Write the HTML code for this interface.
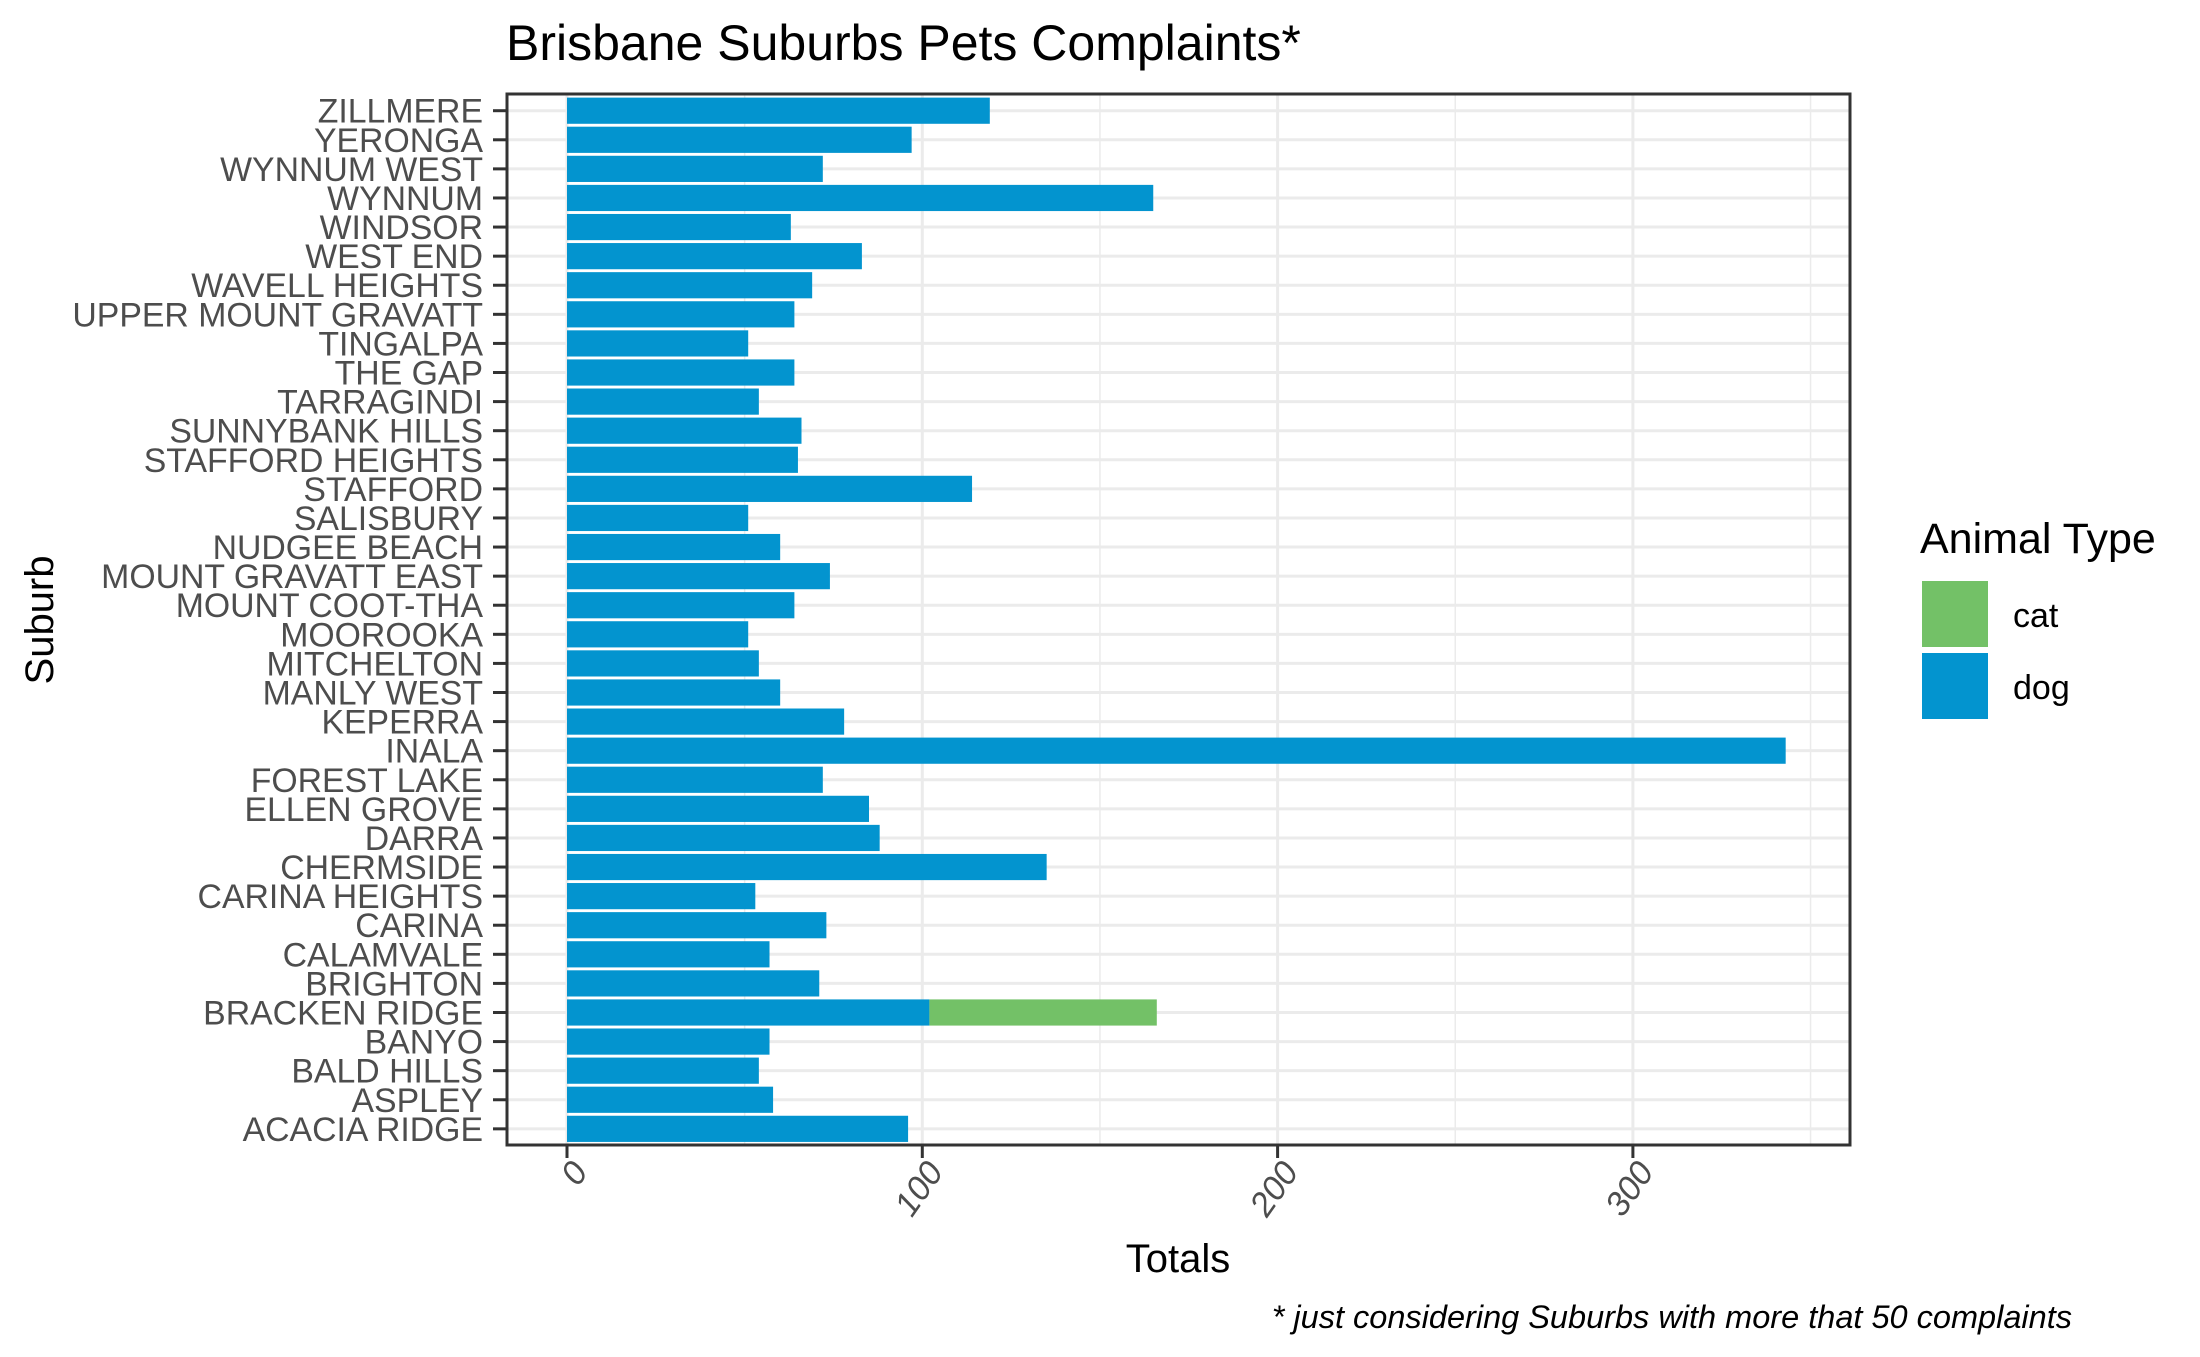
<!DOCTYPE html>
<html><head><meta charset="utf-8"><style>html,body{margin:0;padding:0;background:#fff}svg{display:block}text{font-family:"Liberation Sans",sans-serif}</style></head>
<body>
<svg id="chart" width="2200" height="1357" viewBox="0 0 2200 1357" xmlns="http://www.w3.org/2000/svg">
<rect width="2200" height="1357" fill="#fff"/>
<text x="506" y="60" font-size="50" fill="#000">Brisbane Suburbs Pets Complaints*</text>
<g id="grid"></g>
<g id="bars"></g>
<rect x="507" y="94" width="1343" height="1051" fill="none" stroke="#333" stroke-width="3"/>
<g id="yaxis"></g>
<g id="xaxis"></g>
<text x="1178" y="1272" font-size="40" text-anchor="middle" fill="#000">Totals</text>
<text transform="translate(53,620) rotate(-90)" font-size="40" text-anchor="middle" fill="#000">Suburb</text>
<text x="2072" y="1328" font-size="32.5" font-style="italic" text-anchor="end" fill="#000">* just considering Suburbs with more that 50 complaints</text>
<g>
<text x="1920" y="553" font-size="43" fill="#000">Animal Type</text>
<rect x="1922" y="581" width="66" height="66" fill="#73c167"/>
<text x="2013" y="627" font-size="34" fill="#000">cat</text>
<rect x="1922" y="653" width="66" height="66" fill="#0394cf"/>
<text x="2013" y="699" font-size="34" fill="#000">dog</text>
</g>
</svg>
<script>
const suburbs = ["ZILLMERE","YERONGA","WYNNUM WEST","WYNNUM","WINDSOR","WEST END","WAVELL HEIGHTS","UPPER MOUNT GRAVATT","TINGALPA","THE GAP","TARRAGINDI","SUNNYBANK HILLS","STAFFORD HEIGHTS","STAFFORD","SALISBURY","NUDGEE BEACH","MOUNT GRAVATT EAST","MOUNT COOT-THA","MOOROOKA","MITCHELTON","MANLY WEST","KEPERRA","INALA","FOREST LAKE","ELLEN GROVE","DARRA","CHERMSIDE","CARINA HEIGHTS","CARINA","CALAMVALE","BRIGHTON","BRACKEN RIDGE","BANYO","BALD HILLS","ASPLEY","ACACIA RIDGE"];
const dogValues = [119,97,72,165,63,83,69,64,51,64,54,66,65,114,51,60,74,64,51,54,60,78,343,72,85,88,135,53,73,57,71,102,57,54,58,96];
const catValues = [0,0,0,0,0,0,0,0,0,0,0,0,0,0,0,0,0,0,0,0,0,0,0,0,0,0,0,0,0,0,0,64,0,0,0,0];
const xTicks = [0,100,200,300];
const xTickLabels = ["0","100","200","300"];
const xMinor = [50,150,250,350];

const NS="http://www.w3.org/2000/svg";
const x0=567, pxPer=3.553;
const xs=v=>x0+v*pxPer;
const yTop=110.7, step=29.09;
const ys=i=>yTop+i*step;
const bh=step*0.9;
function mk(tag,attrs,parent){const e=document.createElementNS(NS,tag);for(const k in attrs)e.setAttribute(k,attrs[k]);parent.appendChild(e);return e;}
const grid=document.getElementById('grid'),bars=document.getElementById('bars'),ya=document.getElementById('yaxis'),xa=document.getElementById('xaxis');
xMinor.forEach(v=>{const l=mk('line',{x1:xs(v),x2:xs(v),y1:94,y2:1145,stroke:'#ebebeb','stroke-width':1.5},grid);

});
xTicks.forEach(v=>{const l=mk('line',{x1:xs(v),x2:xs(v),y1:94,y2:1145,stroke:'#ebebeb','stroke-width':3},grid);

});
suburbs.forEach((s,i)=>{const l=mk('line',{x1:507,x2:1850,y1:ys(i),y2:ys(i),stroke:'#ebebeb','stroke-width':3},grid);

});
suburbs.forEach((s,i)=>{
 const d=mk('rect',{x:xs(0),y:ys(i)-bh/2,width:xs(dogValues[i])-xs(0),height:bh,fill:'#0394cf'},bars);
 
 
 if(catValues[i]>0){
  const c=mk('rect',{x:xs(dogValues[i]),y:ys(i)-bh/2,width:xs(dogValues[i]+catValues[i])-xs(dogValues[i]),height:bh,fill:'#73c167'},bars);
  
  
 }
 const t=mk('line',{x1:493,x2:507,y1:ys(i),y2:ys(i),stroke:'#333','stroke-width':3},ya);
 
 
 const tx=mk('text',{x:483,y:ys(i)+12,'font-size':33.8,'text-anchor':'end',fill:'#4d4d4d'},ya);
 tx.textContent=s;
 
 
});
xTicks.forEach((v,i)=>{
 const t=mk('line',{x1:xs(v),x2:xs(v),y1:1145,y2:1158,stroke:'#333','stroke-width':3},xa);
 
 
 const tx=mk('text',{transform:'translate('+(xs(v)+22)+',1172) rotate(-55)','font-size':34,'text-anchor':'end',fill:'#4d4d4d','font-style':'italic'},xa);
 tx.textContent=xTickLabels[i];
 
 
});
</script>
</body></html>
